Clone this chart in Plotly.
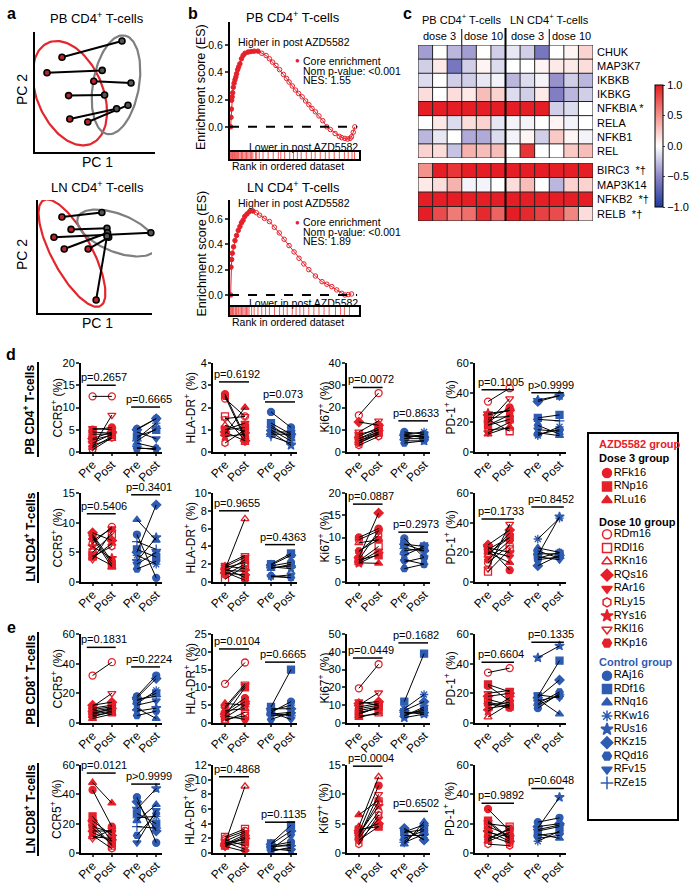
import numpy as np
import plotly.graph_objects as go

W, H = 692, 886
FONT = "Liberation Sans, Arial, Helvetica, sans-serif"
RED = "#e6202a"
BLUE = "#2e5cb2"

# ---------------- panel a: PCA ----------------
pb_pre_pc1 = [22.5, 10, 49, 28, 29, 44]
pb_pre_pc2 = [79, 66, 59, 47, 27.5, 25]
pb_post_pc1 = [72.5, 56, 80, 58, 68, 77.5]
pb_post_pc2 = [92.5, 68, 57.5, 47.5, 36, 39]
ln_pre_pc1 = [21, 29, 14, 23, 44, 51]
ln_pre_pc2 = [85, 74, 67, 56.6, 56.6, 11.5]
ln_post_pc1 = [56, 60.5, 99, 61, 62, 60.5]
ln_post_pc2 = [89, 75, 71, 71, 67, 68]
# ellipse: centre x, centre y, semi-major, semi-minor, angle(deg)
pb_ell_pre = (29, 49, 45.8, 27.5, -67)
pb_ell_post = (67.5, 56, 41.7, 19.2, 80)
ln_ell_pre = (29.8, 53, 53, 17.6, -62)
ln_ell_post = (69.3, 70.8, 37, 16.7, -22)

# ---------------- panel b: GSEA ----------------
pb_rank = [0.005, 0.008, 0.011, 0.013, 0.017, 0.021, 0.026, 0.032, 0.039, 0.046, 0.052, 0.06, 0.068,
           0.078, 0.09, 0.103, 0.118, 0.142, 0.165, 0.19, 0.22, 0.25, 0.284, 0.31, 0.335, 0.362, 0.39,
           0.42, 0.445, 0.465, 0.49, 0.515, 0.54, 0.568, 0.595, 0.62, 0.645, 0.672, 0.7, 0.73, 0.762,
           0.79, 0.827, 0.86, 0.88, 0.904, 0.925, 0.945, 0.956, 0.97, 0.982]
pb_es = [0.0, 0.07, 0.13, 0.195, 0.22, 0.25, 0.29, 0.32, 0.345, 0.366, 0.39, 0.42, 0.44, 0.463, 0.5,
         0.524, 0.54, 0.549, 0.553, 0.556, 0.556, 0.54, 0.524, 0.5, 0.475, 0.451, 0.42, 0.385, 0.355,
         0.329, 0.3, 0.27, 0.245, 0.22, 0.19, 0.163, 0.135, 0.11, 0.08, 0.045, 0.0, -0.02, -0.049,
         -0.07, -0.08, -0.085, -0.09, -0.085, -0.073, -0.04, 0.0]
pb_core_n = 21
pb_hits = [0.005, 0.01, 0.015, 0.02, 0.025, 0.03, 0.035, 0.04, 0.045, 0.05, 0.06, 0.065, 0.07, 0.08,
           0.09, 0.095, 0.1, 0.11, 0.12, 0.13, 0.14, 0.15, 0.16, 0.17, 0.18, 0.2, 0.21, 0.23, 0.26,
           0.3, 0.34, 0.38, 0.4, 0.43, 0.47, 0.5, 0.53, 0.56, 0.6, 0.64, 0.67, 0.71, 0.75, 0.78,
           0.82, 0.86, 0.9, 0.93, 0.96, 0.98]
ln_rank = [0.005, 0.008, 0.013, 0.018, 0.028, 0.039, 0.052, 0.065, 0.078, 0.09, 0.103, 0.116, 0.134,
           0.155, 0.181, 0.207, 0.233, 0.271, 0.31, 0.349, 0.388, 0.426, 0.465, 0.504, 0.543, 0.581,
           0.62, 0.672, 0.724, 0.762, 0.801, 0.84, 0.879, 0.904, 0.93, 0.956]
ln_es = [0.0, 0.22, 0.28, 0.33, 0.38, 0.43, 0.47, 0.51, 0.54, 0.57, 0.59, 0.62, 0.64, 0.66, 0.663,
         0.65, 0.63, 0.605, 0.58, 0.535, 0.49, 0.44, 0.39, 0.34, 0.29, 0.245, 0.2, 0.15, 0.105,
         0.085, 0.066, 0.04, 0.013, 0.0, 0.003, 0.008]
ln_core_n = 15
ln_hits = [0.005, 0.01, 0.015, 0.02, 0.025, 0.03, 0.04, 0.045, 0.05, 0.055, 0.065, 0.07, 0.08, 0.09,
           0.1, 0.11, 0.12, 0.13, 0.14, 0.15, 0.17, 0.19, 0.22, 0.25, 0.28, 0.31, 0.35, 0.39, 0.42,
           0.45, 0.49, 0.52, 0.55, 0.58, 0.62, 0.66, 0.7, 0.74, 0.78, 0.83, 0.87, 0.9, 0.94]

# ---------------- panel c: heatmap ----------------
genes_top = ["CHUK", "MAP3K7", "IKBKB", "IKBKG", "NFKBIA *", "RELA", "NFKB1", "REL"]
genes_bot = ["BIRC3  *\u2020", "MAP3K14", "NFKB2  *\u2020", "RELB  *\u2020"]
heat_top = [
    [-0.4, 0.0, -0.3, -0.4, 0.0, -0.2, -0.1, -0.2, -0.6, 0.0, 0.05, 0.2],
    [-0.2, 0.1, -0.6, -0.2, 0.05, -0.15, 0.0, 0.0, 0.05, 0.1, 0.1, 0.15],
    [-0.15, 0.0, -0.2, -0.2, -0.1, -0.05, -0.3, -0.15, -0.05, -0.45, -0.2, -0.3],
    [0.15, 0.0, 0.15, 0.1, 0.3, 0.2, -0.15, -0.2, 0.1, -0.55, -0.3, -0.2],
    [1, 1, 1, 1, 1, 1, 1, 1, 1, -0.2, -0.15, 0.0],
    [0.0, 0.1, -0.15, 0.15, 0.2, -0.1, -0.05, -0.05, 0.0, 0.05, -0.05, 0.0],
    [-0.3, -0.1, 0.0, -0.35, -0.35, -0.15, -0.05, 0.05, -0.2, 0.25, 0.05, -0.05],
    [0.2, 0.15, -0.25, 0.35, 0.3, 0.3, 0.0, 0.9, 0.0, 0.0, 0.25, 0.3],
]
heat_bot = [
    [0.5, 1, 0.9, 1, 1, 1, 1, 1, 1, 1, 1, 1],
    [0.1, 0.15, 0.35, -0.05, -0.05, 0.0, 0.15, 0.3, 0.0, -0.3, 0.2, 0.2],
    [1, 1, 1, 1, 1, 1, 1, 1, 1, 1, 1, 1],
    [1, 0.8, 0.6, 0.65, 0.95, 0.7, 1, 0.95, 0.85, 0.8, 0.55, 0.15],
]

# ---------------- panels d/e: subjects ----------------
azd_ids = ["RFk16", "RNp16", "RLu16", "RDm16", "RDl16", "RKn16", "RQs16", "RAr16", "RLy15", "RYs16", "RKl16", "RKp16"]
azd_sym = ["circle", "square", "triangle-up", "circle-open", "square-open", "triangle-up-open", "diamond",
           "triangle-down", "hexagon-open", "star", "triangle-down-open", "hexagon2"]
ctl_ids = ["RAj16", "RDf16", "RNq16", "RKw16", "RUs16", "RKz15", "RQd16", "RFv15", "RZe15"]
ctl_sym = ["circle", "square", "triangle-up", "asterisk-open", "star", "diamond", "hexagon2", "triangle-down", "cross-thin-open"]

# PB CD4+
pb4_ccr5_azd_pre = [5.0, 4.0, 1.0, 12.5, 2.7, 1.5, 3.0, 5.3, 0.5, 2.0, 1.0, 4.5]
pb4_ccr5_azd_post = [5.5, 4.0, 3.5, 12.5, 3.8, 3.0, 4.5, 5.0, 3.2, 4.0, 8.3, 4.2]
pb4_ccr5_ctl_pre = [5.2, 3.5, 2.0, 3.0, 1.0, 5.0, 0.8, 4.5, 2.5]
pb4_ccr5_ctl_post = [7.5, 5.0, 1.0, 6.5, 0.5, 7.5, 0.8, 3.0, 5.3]
pb4_hla_azd_pre = [2.6, 1.0, 0.8, 2.4, 1.6, 1.2, 0.9, 1.0, 0.4, 0.7, 1.5, 2.5]
pb4_hla_azd_post = [0.7, 1.1, 2.0, 1.6, 0.5, 0.9, 0.5, 1.3, 1.0, 0.8, 1.6, 0.6]
pb4_hla_ctl_pre = [1.8, 1.3, 1.2, 1.0, 0.9, 0.8, 1.1, 0.9, 0.7]
pb4_hla_ctl_post = [1.1, 0.8, 0.6, 0.5, 0.3, 0.8, 0.7, 0.9, 0.4]
pb4_ki67_azd_pre = [6.0, 5.0, 4.0, 16.5, 7.0, 5.0, 13.5, 8.0, 3.0, 6.0, 9.0, 4.0]
pb4_ki67_azd_post = [10.0, 9.0, 8.0, 26.5, 11.0, 8.0, 12.0, 10.0, 7.0, 9.0, 14.0, 8.5]
pb4_ki67_ctl_pre = [9.0, 7.0, 6.0, 8.0, 5.0, 7.5, 4.0, 6.0, 8.0]
pb4_ki67_ctl_post = [8.0, 7.0, 6.0, 9.0, 5.0, 6.5, 5.0, 8.0, 7.0]
pb4_pd1_azd_pre = [20, 18, 12, 34, 22, 15, 25, 13, 18, 26, 20, 23]
pb4_pd1_azd_post = [30, 22, 17, 43, 14, 16, 28, 20, 25, 28, 36, 24]
pb4_pd1_ctl_pre = [12, 23, 13, 11, 35, 34, 18, 15, 22]
pb4_pd1_ctl_post = [15, 25, 11, 17, 38, 38, 12, 14, 21]
# LN CD4+
ln4_ccr5_azd_pre = [8.0, 4.5, 7.5, 6.5, 5.0, 4.0, 8.3, 7.0, 4.3, 6.0, 3.8, 7.8]
ln4_ccr5_azd_post = [3.5, 2.8, 2.5, 9.3, 8.0, 6.5, 7.0, 9.0, 6.0, 4.0, 8.5, 3.0]
ln4_ccr5_ctl_pre = [8.0, 5.5, 10.5, 4.5, 3.5, 5.0, 2.2, 3.0, 6.8]
ln4_ccr5_ctl_post = [0.7, 4.2, 7.0, 3.0, 7.5, 13.0, 3.5, 5.0, 5.5]
ln4_hla_azd_pre = [1.5, 1.2, 1.8, 1.6, 0.3, 1.4, 1.0, 1.7, 0.8, 1.3, 1.9, 1.1]
ln4_hla_azd_post = [0.5, 2.5, 1.5, 2.2, 1.8, 7.1, 0.8, 2.8, 2.0, 1.2, 3.0, 0.2]
ln4_hla_ctl_pre = [1.8, 2.0, 1.5, 0.6, 1.7, 1.9, 0.7, 0.6, 1.6]
ln4_hla_ctl_post = [2.2, 3.2, 2.0, 0.5, 1.5, 3.0, 0.5, 0.8, 1.8]
ln4_ki67_azd_pre = [10.0, 5.0, 4.3, 9.5, 4.7, 8.8, 5.5, 4.5, 6.8, 4.2, 5.0, 7.0]
ln4_ki67_azd_post = [12.0, 6.0, 4.2, 11.5, 8.0, 9.5, 15.5, 7.0, 10.5, 6.3, 11.5, 9.5]
ln4_ki67_ctl_pre = [9.8, 8.5, 7.0, 5.0, 6.0, 8.5, 3.0, 4.5, 7.5]
ln4_ki67_ctl_post = [5.5, 8.0, 7.5, 4.0, 8.0, 7.0, 4.0, 5.5, 7.0]
ln4_pd1_azd_pre = [24, 22, 20, 13, 7, 18, 25, 21, 19, 23, 9, 15]
ln4_pd1_azd_post = [8, 30, 13, 25, 22, 33, 35, 17, 30, 20, 39, 28]
ln4_pd1_ctl_pre = [15, 19, 23, 29, 18, 11, 16, 17, 21]
ln4_pd1_ctl_post = [17, 19, 20, 43, 44, 18, 20, 15, 16]
# PB CD8+
pb8_ccr5_azd_pre = [10, 6, 3, 32, 8, 5, 12, 9, 4, 7, 11, 6]
pb8_ccr5_azd_post = [12, 8, 6, 41, 10, 7, 14, 11, 8, 9, 20, 10]
pb8_ccr5_ctl_pre = [18, 15, 10, 13, 8, 17, 5, 12, 16]
pb8_ccr5_ctl_post = [32, 20, 3, 22, 10, 30, 8, 15, 18]
pb8_hla_azd_pre = [3.0, 2.0, 5.5, 11.0, 1.0, 3.5, 2.5, 4.0, 0.5, 1.5, 4.5, 2.0]
pb8_hla_azd_post = [7.0, 10.0, 5.0, 17.0, 2.0, 4.0, 6.0, 10.5, 3.0, 5.0, 11.0, 1.0]
pb8_hla_ctl_pre = [3.0, 4.5, 2.5, 3.5, 2.0, 4.0, 1.0, 3.0, 2.8]
pb8_hla_ctl_post = [6.0, 15.0, 3.0, 5.0, 2.5, 4.0, 3.0, 1.0, 2.0]
pb8_ki67_azd_pre = [8, 5, 3, 19.5, 6, 4, 11, 12, 7, 9, 10, 5]
pb8_ki67_azd_post = [10, 9, 6, 33, 8, 5, 12, 10, 9, 11, 17, 9]
pb8_ki67_ctl_pre = [4, 12, 6, 8, 3, 7, 5, 4, 6]
pb8_ki67_ctl_post = [8, 39, 5, 16, 5, 12, 7, 9, 6]
pb8_pd1_azd_pre = [25, 26, 10, 34, 14, 4, 18, 12, 16, 8, 20, 13]
pb8_pd1_azd_post = [15, 21, 12, 37, 11, 13, 20, 14, 12, 17, 22, 10]
pb8_pd1_ctl_pre = [10, 18, 16, 15, 44, 17, 13, 19, 12]
pb8_pd1_ctl_post = [20, 42, 6, 18, 52, 29, 21, 17, 19]
# LN CD8+
ln8_ccr5_azd_pre = [43, 25, 48, 15, 20, 11, 22, 18, 12, 14, 10, 17]
ln8_ccr5_azd_post = [18, 8, 34, 15, 5, 10, 12, 14, 3, 8, 16, 6]
ln8_ccr5_ctl_pre = [38, 27, 22, 24, 30, 35, 12, 7, 18]
ln8_ccr5_ctl_post = [7, 20, 33, 25, 44, 15, 27, 29, 17]
ln8_hla_azd_pre = [1.2, 1.0, 1.5, 2.0, 2.2, 1.3, 1.0, 0.9, 1.8, 1.1, 1.6, 1.4]
ln8_hla_azd_post = [2.5, 1.5, 0.5, 3.0, 3.3, 9.1, 2.0, 0.2, 1.0, 2.2, 2.8, 1.8]
ln8_hla_ctl_pre = [1.0, 1.3, 0.8, 0.4, 0.6, 1.2, 0.5, 0.2, 0.9]
ln8_hla_ctl_post = [1.5, 3.8, 1.2, 0.6, 0.3, 3.0, 2.5, 0.8, 1.0]
ln8_ki67_azd_pre = [3.5, 4.0, 6.5, 2.5, 3.0, 4.5, 3.8, 2.0, 1.5, 3.2, 2.8, 2.2]
ln8_ki67_azd_post = [11.5, 4.5, 9.0, 7.0, 8.8, 13.0, 5.0, 5.8, 6.5, 8.0, 10.0, 4.5]
ln8_ki67_ctl_pre = [4.0, 3.5, 1.5, 3.0, 2.0, 4.2, 2.5, 3.6, 1.8]
ln8_ki67_ctl_post = [2.3, 4.0, 5.3, 3.0, 4.5, 2.2, 3.8, 4.8, 3.2]
ln8_pd1_azd_pre = [30, 22, 18, 12, 20, 8, 15, 10, 6, 14, 21, 9]
ln8_pd1_azd_post = [15, 10, 12, 7, 18, 14, 8, 16, 5, 11, 9, 17]
ln8_pd1_ctl_pre = [21, 15, 13, 8, 17, 18, 12, 10, 16]
ln8_pd1_ctl_post = [24, 18, 10, 15, 38, 20, 14, 12, 19]

row_titles = ["PB CD4<sup>+</sup> T-cells", "LN CD4<sup>+</sup> T-cells", "PB CD8<sup>+</sup> T-cells", "LN CD8<sup>+</sup> T-cells"]
marker_titles = ["CCR5<sup>+</sup> (%)", "HLA-DR<sup>+</sup> (%)", "Ki67<sup>+</sup> (%)", "PD-1<sup>+</sup> (%)"]
y_max = [[20, 4, 40, 60], [15, 10, 20, 60], [60, 25, 50, 60], [60, 12, 15, 60]]
y_step = [[5, 1, 10, 20], [5, 2, 5, 20], [20, 5, 10, 20], [20, 2, 5, 20]]
p_text = [
    [("p=0.2657", "p=0.6665"), ("p=0.6192", "p=0.073"), ("p=0.0072", "p=0.8633"), ("p=0.1005", "p>0.9999")],
    [("p=0.5406", "p=0.3401"), ("p=0.9655", "p=0.4363"), ("p=0.0887", "p=0.2973"), ("p=0.1733", "p=0.8452")],
    [("p=0.1831", "p=0.2224"), ("p=0.0104", "p=0.6665"), ("p=0.0449", "p=0.1682"), ("p=0.6604", "p=0.1335")],
    [("p=0.0121", "p>0.9999"), ("p=0.4868", "p=0.1135"), ("p=0.0004", "p=0.6502"), ("p=0.9892", "p=0.6048")],
]
p_level = [
    [(15, 10.1), (3.15, 2.25), (29, 14), (42, 40)],
    [(11.5, 14.7), (8.0, 4.2), (17.5, 11.2), (42.5, 50.6)],
    [(51, 37.8), (20.8, 17.1), (36.5, 45), (41, 54.5)],
    [(54.5, 47), (10.4, 4.2), (14.8, 7.1), (34, 44)],
]
dot_data = [
    [(pb4_ccr5_azd_pre, pb4_ccr5_azd_post, pb4_ccr5_ctl_pre, pb4_ccr5_ctl_post),
     (pb4_hla_azd_pre, pb4_hla_azd_post, pb4_hla_ctl_pre, pb4_hla_ctl_post),
     (pb4_ki67_azd_pre, pb4_ki67_azd_post, pb4_ki67_ctl_pre, pb4_ki67_ctl_post),
     (pb4_pd1_azd_pre, pb4_pd1_azd_post, pb4_pd1_ctl_pre, pb4_pd1_ctl_post)],
    [(ln4_ccr5_azd_pre, ln4_ccr5_azd_post, ln4_ccr5_ctl_pre, ln4_ccr5_ctl_post),
     (ln4_hla_azd_pre, ln4_hla_azd_post, ln4_hla_ctl_pre, ln4_hla_ctl_post),
     (ln4_ki67_azd_pre, ln4_ki67_azd_post, ln4_ki67_ctl_pre, ln4_ki67_ctl_post),
     (ln4_pd1_azd_pre, ln4_pd1_azd_post, ln4_pd1_ctl_pre, ln4_pd1_ctl_post)],
    [(pb8_ccr5_azd_pre, pb8_ccr5_azd_post, pb8_ccr5_ctl_pre, pb8_ccr5_ctl_post),
     (pb8_hla_azd_pre, pb8_hla_azd_post, pb8_hla_ctl_pre, pb8_hla_ctl_post),
     (pb8_ki67_azd_pre, pb8_ki67_azd_post, pb8_ki67_ctl_pre, pb8_ki67_ctl_post),
     (pb8_pd1_azd_pre, pb8_pd1_azd_post, pb8_pd1_ctl_pre, pb8_pd1_ctl_post)],
    [(ln8_ccr5_azd_pre, ln8_ccr5_azd_post, ln8_ccr5_ctl_pre, ln8_ccr5_ctl_post),
     (ln8_hla_azd_pre, ln8_hla_azd_post, ln8_hla_ctl_pre, ln8_hla_ctl_post),
     (ln8_ki67_azd_pre, ln8_ki67_azd_post, ln8_ki67_ctl_pre, ln8_ki67_ctl_post),
     (ln8_pd1_azd_pre, ln8_pd1_azd_post, ln8_pd1_ctl_pre, ln8_pd1_ctl_post)],
]
x_cats = [1, 2, 3.3, 4.3]
x_labels = ["Pre", "Post", "Pre", "Post"]

# ================= build =================
fig = go.Figure()
LAYOUT, SHAPES, ANNS = {}, [], []
_n = [0]


def axes(x0, x1, y0, y1, xkw=None, ykw=None):
    _n[0] += 1
    s = "" if _n[0] == 1 else str(_n[0])
    base = dict(showgrid=False, zeroline=False, automargin=False, showline=False, ticks="",
                showticklabels=False, fixedrange=True, linecolor="black",
                tickfont=dict(family=FONT, size=11, color="black"))
    xa = dict(base, domain=[x0 / W, x1 / W], anchor="y" + s)
    ya = dict(base, domain=[1 - y1 / H, 1 - y0 / H], anchor="x" + s)
    if xkw:
        xa.update(xkw)
    if ykw:
        ya.update(ykw)
    LAYOUT["xaxis" + s] = xa
    LAYOUT["yaxis" + s] = ya
    return "x" + s, "y" + s


def txt(x, y, text, size=11, color="black", bold=False, angle=0, xanchor="center", yanchor="middle"):
    if bold:
        text = "<b>" + text + "</b>"
    ANNS.append(dict(x=x / W, y=1 - y / H, xref="paper", yref="paper", text=text, showarrow=False,
                     font=dict(family=FONT, size=size, color=color), textangle=angle,
                     xanchor=xanchor, yanchor=yanchor))


def pline(x0, y0, x1, y1, width=1.5, color="black", dash=None):
    SHAPES.append(dict(type="line", xref="paper", yref="paper", x0=x0 / W, x1=x1 / W,
                       y0=1 - y0 / H, y1=1 - y1 / H, line=dict(color=color, width=width, dash=dash)))


def add(tr, xa, ya):
    tr.update(xaxis=xa, yaxis=ya, showlegend=False, hoverinfo="skip")
    fig.add_trace(tr)


# panel labels
for lab, (lx, ly) in zip("abcde", [(11, 13), (193, 13), (407, 13), (11, 355), (11, 627)]):
    txt(lx, ly, lab, size=16, bold=True)

# ---- panel a ----
def ellipse(p):
    cx, cy, a, b, ang = p
    t = np.linspace(0, 2 * np.pi, 140)
    th = np.deg2rad(ang)
    return (cx + a * np.cos(t) * np.cos(th) - b * np.sin(t) * np.sin(th),
            cy + a * np.cos(t) * np.sin(th) + b * np.sin(t) * np.cos(th))


def pca(box, pre1, pre2, post1, post2, e_pre, e_post, title, tpos):
    x0, x1, y0, y1 = box
    ax = dict(range=[0, 100], showline=True, linewidth=2.2)
    xa, ya = axes(x0, x1, y0, y1, dict(ax), dict(ax))
    for e, col in ((e_pre, "#e4252b"), (e_post, "#7f7f7f")):
        ex, ey = ellipse(e)
        add(go.Scatter(x=ex, y=ey, mode="lines", line=dict(color=col, width=2.2), cliponaxis=False), xa, ya)
    lx, ly = [], []
    for a, b, c, d in zip(pre1, pre2, post1, post2):
        lx += [a, c, None]
        ly += [b, d, None]
    add(go.Scatter(x=lx, y=ly, mode="lines", line=dict(color="black", width=2), cliponaxis=False), xa, ya)
    add(go.Scatter(x=pre1, y=pre2, mode="markers", cliponaxis=False,
                   marker=dict(size=6, color="#b8242b", line=dict(color="black", width=1.6))), xa, ya)
    add(go.Scatter(x=post1, y=post2, mode="markers", cliponaxis=False,
                   marker=dict(size=6, color="#555555", line=dict(color="black", width=1.6))), xa, ya)
    tx, ty, pcx, pc1y, pc2x, pc2y = tpos
    txt(tx, ty, title, size=13)
    txt(pcx, pc1y, "PC 1", size=14)
    txt(pc2x, pc2y, "PC 2", size=14, angle=-90)


pca((35, 155, 32, 152), pb_pre_pc1, pb_pre_pc2, pb_post_pc1, pb_post_pc2, pb_ell_pre, pb_ell_post,
    "PB CD4<sup>+</sup> T-cells", (97, 18, 97, 162, 22, 90))
pca((38, 152, 200, 313), ln_pre_pc1, ln_pre_pc2, ln_post_pc1, ln_post_pc2, ln_ell_pre, ln_ell_post,
    "LN CD4<sup>+</sup> T-cells", (97, 187, 97, 323, 22, 255))

# ---- panel b ----
def gsea(box, strip_bottom, yrange, rank, es, ncore, hits, title, ty, nes, txt_y):
    x0, x1, y0, y1 = box
    xa, ya = axes(x0, x1, y0, y1, dict(range=[0, 1.015]),
                  dict(range=yrange, showline=True, linewidth=2.2, ticks="outside", ticklen=3, tickwidth=1.5,
                       tickvals=[0, 0.2, 0.4, 0.6], tickformat=".1f", showticklabels=True,
                       tickfont=dict(family=FONT, size=10.5, color="black")))
    SHAPES.append(dict(type="line", xref=xa + " domain", yref=ya, x0=0, x1=0.985, y0=0, y1=0,
                       line=dict(color="black", width=2, dash="dash")))
    add(go.Scatter(x=rank, y=es, mode="lines+markers", line=dict(color=RED, width=1),
                   marker=dict(symbol="circle-open", size=4.5, color=RED, line=dict(width=1)), cliponaxis=False), xa, ya)
    add(go.Scatter(x=rank[:ncore], y=es[:ncore], mode="markers",
                   marker=dict(symbol="circle", size=4.5, color=RED), cliponaxis=False), xa, ya)
    sx, sy = axes(x0, x1, y1, strip_bottom,
                  dict(range=[0, 1.015], showline=True, mirror=True, linewidth=2),
                  dict(range=[0, 1], showline=True, mirror=True, linewidth=2))
    hx, hy = [], []
    for h in hits:
        hx += [h, h, None]
        hy += [0, 1, None]
    add(go.Scatter(x=hx, y=hy, mode="lines", line=dict(color="#ef5a5a", width=1)), sx, sy)
    txt(293, ty, title, size=13)
    hy_, dot_y, lower_y, rank_y = txt_y
    txt(294, hy_, "Higher in post AZD5582", size=10.5)
    txt(297, dot_y, "\u25CF", size=8, color=RED)
    txt(301, dot_y, "Core enrichment", size=10.5, xanchor="left")
    txt(301, dot_y + 9.8, "Nom p-value: <0.001", size=10.5, xanchor="left")
    txt(301, dot_y + 19.3, "NES: " + nes, size=10.5, xanchor="left")
    txt(303, lower_y, "Lower in post AZD5582", size=10.5)
    txt(288, rank_y, "Rank in ordered dataset", size=10.5)
    txt(201, (y0 + y1) / 2, "Enrichment score (ES)", size=12.5, angle=-90)


gsea((230, 359, 22, 152), 159, [-0.185, 0.77], pb_rank, pb_es, pb_core_n, pb_hits,
     "PB CD4<sup>+</sup> T-cells", 17, "1.55", (42, 61, 147, 166))
gsea((230, 359, 200, 307), 315, [-0.095, 0.75], ln_rank, ln_es, ln_core_n, ln_hits,
     "LN CD4<sup>+</sup> T-cells", 187, "1.89", (203, 222, 303, 322))

# ---- panel c ----
HX0, HX1 = 418, 593
cell_w = (HX1 - HX0) / 12


def heat(y0, y1, z, genes):
    nr = len(genes)
    xa, ya = axes(HX0, HX1, y0, y1, dict(range=[-0.5, 11.5]),
                  dict(range=[nr - 0.5, -0.5], side="right", tickvals=list(range(nr)), ticktext=genes,
                       showticklabels=True, ticklabelstandoff=3))
    add(go.Heatmap(z=z, coloraxis="coloraxis"), xa, ya)
    gx, gy = [], []
    for i in range(13):
        gx += [i - 0.5, i - 0.5, None]
        gy += [-0.5, nr - 0.5, None]
    for j in range(nr + 1):
        gx += [-0.5, 11.5, None]
        gy += [j - 0.5, j - 0.5, None]
    add(go.Scatter(x=gx, y=gy, mode="lines", line=dict(color="#222222", width=1), cliponaxis=False), xa, ya)


heat(45, 158, heat_top, genes_top)
heat(163, 221, heat_bot, genes_bot)
pline(HX0 + 6 * cell_w, 28, HX0 + 6 * cell_w, 221, width=2)
pline(HX0 + 3 * cell_w, 29, HX0 + 3 * cell_w, 45, width=1)
pline(HX0 + 9 * cell_w, 29, HX0 + 9 * cell_w, 45, width=1)
txt(HX0 + 3 * cell_w, 19, "PB CD4<sup>+</sup> T-cells", size=11)
txt(HX0 + 9 * cell_w, 19, "LN CD4<sup>+</sup> T-cells", size=11)
for k, lab in enumerate(["dose 3", "dose 10", "dose 3", "dose 10"]):
    txt(HX0 + (1.5 + 3 * k) * cell_w, 36, lab, size=11)

LAYOUT["coloraxis"] = dict(
    cmin=-1, cmax=1,
    colorscale=[[0, "#1f3a9c"], [0.25, "#8c86c6"], [0.5, "#ffffff"], [0.75, "#f2928a"], [1, "#e41e24"]],
    colorbar=dict(x=655 / W, xanchor="left", y=1 - 146 / H, yanchor="middle", len=122 / H,
                  lenmode="fraction", thickness=8, outlinecolor="black", outlinewidth=1,
                  tickvals=[-1, -0.5, 0, 0.5, 1], ticktext=["\u22121.0", "\u22120.5", "0.0", "0.5", "1.0"],
                  ticks="outside", ticklen=2, tickfont=dict(family=FONT, size=11, color="black"),
                  xpad=0, ypad=0))

# ---- panels d / e ----
col_x = [(81, 162), (213, 297), (347, 430), (475, 566)]
row_y = [(363, 452), (493, 582), (634, 723), (765, 853)]
ylab_x = [56, 189, 323, 449]
row_lines = [(362, 457), (492, 583), (632, 727), (763, 856)]

for r in range(4):
    ry0, ry1 = row_y[r]
    txt(29, (row_lines[r][0] + row_lines[r][1]) / 2, row_titles[r], size=12, bold=True, angle=-90)
    pline(38, row_lines[r][0], 38, row_lines[r][1], width=2)
    for c in range(4):
        cx0, cx1 = col_x[c]
        ymax, step = y_max[r][c], y_step[r][c]
        xa, ya = axes(cx0, cx1, ry0, ry1,
                      dict(range=[0.4, 4.6], showline=True, linewidth=2, tickvals=x_cats, ticktext=x_labels,
                           tickangle=-45, showticklabels=True, ticks="outside", ticklen=2, tickwidth=1.5,
                           ticklabelstandoff=-3,
                           tickfont=dict(family=FONT, size=12, color="black")),
                      dict(range=[0, ymax], showline=True, linewidth=2, tickvals=list(range(0, ymax + 1, step)),
                           showticklabels=True, ticks="outside", ticklen=3, tickwidth=1.5,
                           ticklabelstandoff=-1))
        a_pre, a_post, c_pre, c_post = dot_data[r][c]
        add(go.Scatter(x=[x_cats[0]] * len(a_pre) + [x_cats[1]] * len(a_post), y=a_pre + a_post,
                       mode="markers", cliponaxis=False,
                       marker=dict(symbol=azd_sym * 2, size=7, color=RED, line=dict(color=RED, width=1.3))), xa, ya)
        add(go.Scatter(x=[x_cats[2]] * len(c_pre) + [x_cats[3]] * len(c_post), y=c_pre + c_post,
                       mode="markers", cliponaxis=False,
                       marker=dict(symbol=ctl_sym * 2, size=7, color=BLUE, line=dict(color=BLUE, width=1.3))), xa, ya)
        lx, ly = [], []
        for a, b in zip(a_pre, a_post):
            lx += [x_cats[0], x_cats[1], None]
            ly += [a, b, None]
        for a, b in zip(c_pre, c_post):
            lx += [x_cats[2], x_cats[3], None]
            ly += [a, b, None]
        add(go.Scatter(x=lx, y=ly, mode="lines", line=dict(color="black", width=1), cliponaxis=False), xa, ya)
        for g, (xl0, xl1) in enumerate([(x_cats[0] - 0.3, x_cats[1] + 0.2), (x_cats[2] - 0.3, x_cats[3] + 0.2)]):
            lvl = p_level[r][c][g]
            SHAPES.append(dict(type="line", xref=xa, yref=ya, x0=xl0, x1=xl1, y0=lvl, y1=lvl,
                               line=dict(color="black", width=1.5)))
            ANNS.append(dict(x=(xl0 + xl1) / 2 + 0.15, y=lvl, xref=xa, yref=ya, text=p_text[r][c][g],
                             showarrow=False, yanchor="bottom", yshift=0,
                             font=dict(family=FONT, size=11, color="black")))
        txt(ylab_x[c], (ry0 + ry1) / 2, marker_titles[c], size=12, angle=-90)

# ---- legend ----
LX0, LX1, LY0, LY1 = 588, 678, 433, 820
lxa, lya = axes(LX0, LX1, LY0, LY1, dict(range=[0, LX1 - LX0]), dict(range=[LY1 - LY0, 0]))
SHAPES.append(dict(type="rect", xref="paper", yref="paper", x0=LX0 / W, x1=LX1 / W, y0=1 - LY1 / H, y1=1 - LY0 / H,
                   line=dict(color="black", width=2)))
entries_y, entries_sym, entries_col, entries_lab = [], [], [], []
cur = 11
txt(LX0 + 9, LY0 + cur, "AZD5582 group", size=11, bold=True, color=RED, xanchor="left")
cur += 14
txt(LX0 + 9, LY0 + cur, "Dose 3 group", size=11, bold=True, xanchor="left")
cur += 15
for i in range(12):
    if i == 3:
        cur += 8
        txt(LX0 + 9, LY0 + cur, "Dose 10 group", size=11, bold=True, xanchor="left")
        cur += 12.5
    entries_y.append(cur)
    entries_sym.append(azd_sym[i])
    entries_col.append(RED)
    entries_lab.append(azd_ids[i])
    cur += 13.6
cur += 5
txt(LX0 + 9, LY0 + cur, "Control group", size=11, bold=True, color=BLUE, xanchor="left")
cur += 14
for i in range(9):
    entries_y.append(cur)
    entries_sym.append(ctl_sym[i])
    entries_col.append(BLUE)
    entries_lab.append(ctl_ids[i])
    cur += 13.4
add(go.Scatter(x=[19] * len(entries_y), y=entries_y, mode="markers+text", text=entries_lab,
               textposition="middle right", textfont=dict(family=FONT, size=11, color="black"),
               marker=dict(symbol=entries_sym, size=9, color=entries_col, line=dict(color=entries_col, width=1.5)),
               cliponaxis=False), lxa, lya)

LAYOUT.update(width=W, height=H, margin=dict(l=0, r=0, t=0, b=0), paper_bgcolor="white",
              plot_bgcolor="white", showlegend=False, shapes=SHAPES, annotations=ANNS,
              font=dict(family=FONT, color="black"), template="none")
fig.update_layout(**LAYOUT)
fig.write_html("out.html", config={"displayModeBar": False},
               post_script="document.body.style.margin='0px';document.body.style.overflow='hidden';")
